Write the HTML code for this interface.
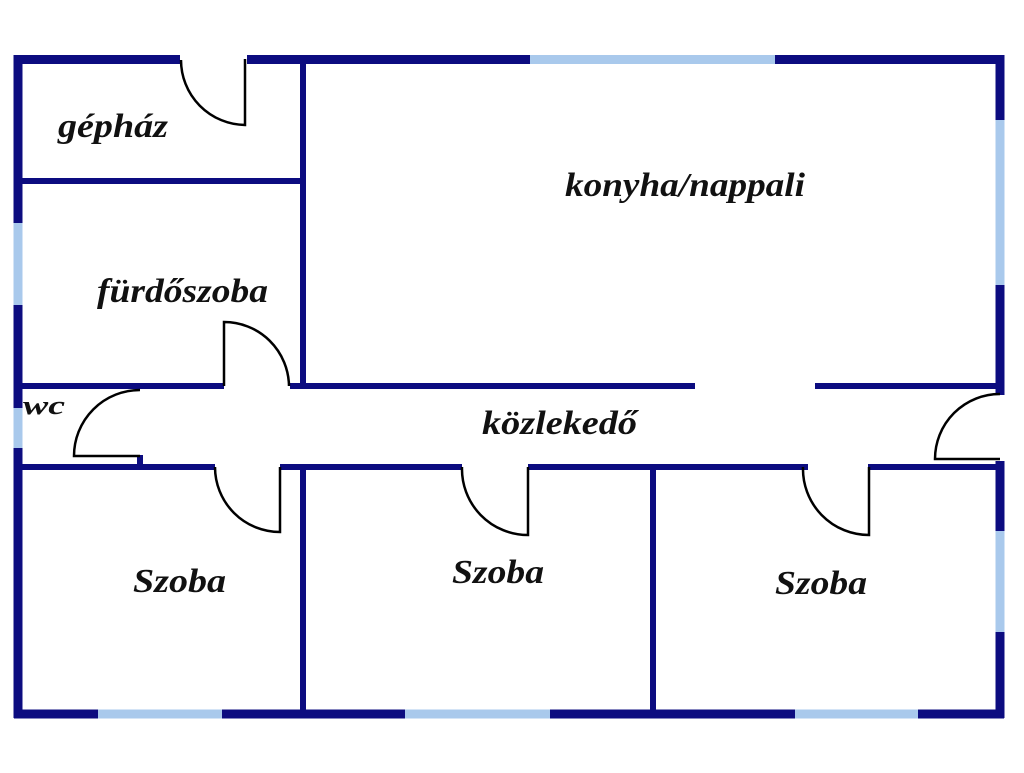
<!DOCTYPE html>
<html><head><meta charset="utf-8"><style>
html,body{margin:0;padding:0;background:#fff;}
svg text{font-family:"Liberation Serif",serif;font-weight:bold;font-style:italic;fill:#111;}
</style></head><body>
<svg width="1024" height="768" viewBox="0 0 1024 768" xmlns="http://www.w3.org/2000/svg">
<rect width="1024" height="768" fill="#fff"/>
<g stroke-linecap="butt">
<g stroke="#0c0c80" stroke-width="9">
<line x1="14" y1="59.5" x2="180" y2="59.5"/>
<line x1="247" y1="59.5" x2="530" y2="59.5"/>
<line x1="775" y1="59.5" x2="1004" y2="59.5"/>
<line x1="18" y1="55" x2="18" y2="223"/>
<line x1="18" y1="305" x2="18" y2="408"/>
<line x1="18" y1="448" x2="18" y2="718"/>
<line x1="1000" y1="55" x2="1000" y2="120"/>
<line x1="1000" y1="285" x2="1000" y2="395"/>
<line x1="1000" y1="461" x2="1000" y2="531"/>
<line x1="1000" y1="632" x2="1000" y2="718"/>
<line x1="14" y1="714" x2="98" y2="714"/>
<line x1="222" y1="714" x2="405" y2="714"/>
<line x1="550" y1="714" x2="795" y2="714"/>
<line x1="918" y1="714" x2="1004" y2="714"/>
</g>
<g stroke="#a9c9ec" stroke-width="9">
<line x1="530" y1="59.5" x2="775" y2="59.5"/>
<line x1="18" y1="223" x2="18" y2="305"/>
<line x1="18" y1="408" x2="18" y2="448"/>
<line x1="1000" y1="120" x2="1000" y2="285"/>
<line x1="1000" y1="531" x2="1000" y2="632"/>
<line x1="98" y1="714" x2="222" y2="714"/>
<line x1="405" y1="714" x2="550" y2="714"/>
<line x1="795" y1="714" x2="918" y2="714"/>
</g>
<g stroke="#0c0c80" stroke-width="6">
<line x1="303" y1="59" x2="303" y2="388"/>
<line x1="303" y1="467" x2="303" y2="714"/>
<line x1="653" y1="467" x2="653" y2="714"/>
<line x1="18" y1="181" x2="303" y2="181"/>
<line x1="18" y1="386" x2="224" y2="386"/>
<line x1="290" y1="386" x2="695" y2="386"/>
<line x1="815" y1="386" x2="1000" y2="386"/>
<line x1="18" y1="467" x2="215" y2="467"/>
<line x1="280" y1="467" x2="462" y2="467"/>
<line x1="528" y1="467" x2="808" y2="467"/>
<line x1="868" y1="467" x2="1000" y2="467"/>
<line x1="140" y1="455" x2="140" y2="467"/>
</g>
<g stroke="#000" stroke-width="2.5" fill="none">
<path d="M245 59 V125 A65 65 0 0 1 181 60"/>
<path d="M224 386 V322 A65 65 0 0 1 289 386"/>
<path d="M140 456 H74 A66 66 0 0 1 140 390"/>
<path d="M280 467 V532 A65 65 0 0 1 215 467"/>
<path d="M528 467 V535 A66 66 0 0 1 462 467"/>
<path d="M869 467 V535 A66 66 0 0 1 803 467"/>
<path d="M1000 459 H935 A65 65 0 0 1 1000 394"/>
</g>
</g>
<text x="58" y="137" font-size="34" textLength="110" lengthAdjust="spacingAndGlyphs">gépház</text>
<text x="565" y="196" font-size="34" textLength="240" lengthAdjust="spacingAndGlyphs">konyha/nappali</text>
<text x="97" y="302" font-size="34" textLength="171" lengthAdjust="spacingAndGlyphs">fürdőszoba</text>
<text x="23" y="414" font-size="26" textLength="42" lengthAdjust="spacingAndGlyphs">wc</text>
<text x="482" y="434" font-size="34" textLength="155" lengthAdjust="spacingAndGlyphs">közlekedő</text>
<text x="133" y="592" font-size="34" textLength="93" lengthAdjust="spacingAndGlyphs">Szoba</text>
<text x="452" y="583" font-size="34" textLength="92" lengthAdjust="spacingAndGlyphs">Szoba</text>
<text x="775" y="594" font-size="34" textLength="92" lengthAdjust="spacingAndGlyphs">Szoba</text>
</svg>
</body></html>
